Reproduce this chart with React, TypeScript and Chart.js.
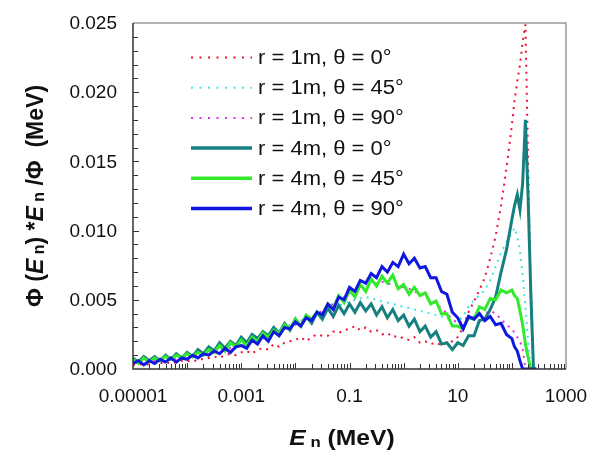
import React, { useEffect, useRef } from "react";
import { Chart, registerables } from "chart.js";

Chart.register(...registerables);

// Neutron energy bins (MeV)
const energies = [
  0.00001, 0.0000126, 0.0000158, 0.00002, 0.0000251, 0.0000316, 0.0000398, 0.0000501, 0.0000631, 0.0000794,
  0.0001, 0.000126, 0.000158, 0.0002, 0.000251, 0.000316, 0.000398, 0.000501, 0.000631, 0.000794,
  0.001, 0.00126, 0.00158, 0.002, 0.00251, 0.00316, 0.00398, 0.00501, 0.00631, 0.00794,
  0.01, 0.0126, 0.0158, 0.02, 0.0251, 0.0316, 0.0398, 0.0501, 0.0631, 0.0794,
  0.1, 0.126, 0.158, 0.2, 0.251, 0.316, 0.398, 0.501, 0.631, 0.794,
  1, 1.26, 1.58, 2, 2.51, 3.16, 3.98, 5.01, 6.31, 7.94,
  10, 12.6, 15.8, 20, 25.1, 31.6, 39.8, 50.1, 63.1, 79.4,
  100, 112, 126, 141, 158, 178, 200, 224, 251, 282,
];

const r1Theta0 = [
  0.0003, 0.0003, 0.0004, 0.0003, 0.0004, 0.0004, 0.0005, 0.0004, 0.0005, 0.0006,
  0.0006, 0.0005, 0.0007, 0.0007, 0.0008, 0.0009, 0.0008, 0.001, 0.0011, 0.001,
  0.0012, 0.0013, 0.0011, 0.0014, 0.0015, 0.0014, 0.0018, 0.0016, 0.0019, 0.002,
  0.0021, 0.0023, 0.002, 0.0023, 0.0025, 0.0024, 0.0024, 0.0027, 0.0026, 0.0028,
  0.0029, 0.0031, 0.0028, 0.003, 0.0027, 0.0028, 0.0025, 0.0026, 0.0023, 0.0024,
  0.0022, 0.0021, 0.0023, 0.0019, 0.002, 0.0018, 0.0019, 0.0017, 0.0019, 0.002,
  0.0023, 0.003, 0.0041, 0.0049, 0.0057, 0.0066, 0.008, 0.0096, 0.0118, 0.0145,
  0.0176, 0.0194, 0.0208, 0.022, 0.0236, 0.0249, 0.0148, 0.0045, 0.0, 0.0,
];

const r1Theta45 = [
  0.0005, 0.0005, 0.0006, 0.0006, 0.0007, 0.0007, 0.0008, 0.0008, 0.0009, 0.0009,
  0.001, 0.0011, 0.0011, 0.0012, 0.0013, 0.0014, 0.0015, 0.0016, 0.0017, 0.0018,
  0.0019, 0.002, 0.0021, 0.0023, 0.0024, 0.0026, 0.0027, 0.0029, 0.003, 0.0032,
  0.0034, 0.0035, 0.0037, 0.0038, 0.004, 0.0041, 0.0043, 0.0044, 0.0046, 0.0047,
  0.0049, 0.005, 0.0051, 0.0052, 0.0051, 0.005, 0.0049, 0.0048, 0.0047, 0.0046,
  0.0045, 0.0044, 0.0043, 0.0042, 0.0041, 0.004, 0.0039, 0.0038, 0.0036, 0.0035,
  0.0034, 0.0038, 0.0045, 0.005, 0.0053, 0.0057, 0.0064, 0.0074, 0.0084, 0.0092,
  0.0098, 0.0102, 0.0096, 0.0085, 0.0068, 0.0045, 0.002, 0.0, 0.0, 0.0,
];

const r1Theta90 = [
  0.0004, 0.0005, 0.0005, 0.0005, 0.0006, 0.0006, 0.0006, 0.0007, 0.0007, 0.0008,
  0.0008, 0.0009, 0.001, 0.001, 0.0011, 0.0012, 0.0013, 0.0014, 0.0015, 0.0016,
  0.0017, 0.0018, 0.002, 0.0021, 0.0022, 0.0024, 0.0025, 0.0027, 0.0029, 0.003,
  0.0032, 0.0034, 0.0036, 0.0038, 0.004, 0.0042, 0.0045, 0.0047, 0.005, 0.0052,
  0.0055, 0.0057, 0.0059, 0.006, 0.0061, 0.0062, 0.0063, 0.0062, 0.0061, 0.006,
  0.0059, 0.0058, 0.0056, 0.0054, 0.0052, 0.005, 0.0047, 0.0044, 0.004, 0.0036,
  0.0033, 0.0034, 0.0036, 0.0038, 0.0039, 0.004, 0.0042, 0.004, 0.0036, 0.0032,
  0.0029, 0.0026, 0.0023, 0.002, 0.0015, 0.0, 0.0, 0.0, 0.0, 0.0,
];

const r4Theta0 = [
  0.0008, 0.0005, 0.0009, 0.0006, 0.0009, 0.0006, 0.001, 0.0007, 0.0011, 0.0008,
  0.0012, 0.0009, 0.0014, 0.0011, 0.0016, 0.0013, 0.0019, 0.0015, 0.002, 0.0017,
  0.0023, 0.0019, 0.0025, 0.0022, 0.0027, 0.0024, 0.003, 0.0026, 0.0033, 0.0028,
  0.0036, 0.0031, 0.0038, 0.0033, 0.0041, 0.0036, 0.0044, 0.0038, 0.0046, 0.004,
  0.0047, 0.0041, 0.0048, 0.0042, 0.0047, 0.0039, 0.0045, 0.0037, 0.0043, 0.0035,
  0.0039, 0.0031, 0.0036, 0.0027, 0.0031, 0.0023, 0.0027, 0.0018, 0.0019, 0.0014,
  0.0019, 0.0017, 0.0024, 0.0024, 0.0035, 0.0036, 0.0043, 0.0052, 0.007, 0.0086,
  0.0108, 0.0118, 0.0126, 0.0115, 0.0134, 0.018, 0.0122, 0.0055, 0.0, 0.0,
];

const r4Theta45 = [
  0.0007, 0.0004, 0.0008, 0.0005, 0.0008, 0.0006, 0.0009, 0.0007, 0.001, 0.0008,
  0.0011, 0.0009, 0.0012, 0.001, 0.0014, 0.0012, 0.0017, 0.0013, 0.0019, 0.0016,
  0.0021, 0.0017, 0.0023, 0.002, 0.0026, 0.0023, 0.0028, 0.0026, 0.0032, 0.0029,
  0.0036, 0.0031, 0.0039, 0.0036, 0.0041, 0.0039, 0.0047, 0.0044, 0.0053, 0.0048,
  0.0057, 0.0052, 0.0061, 0.0056, 0.0065, 0.006, 0.0067, 0.0062, 0.0068, 0.0058,
  0.0061, 0.0054, 0.0059, 0.0053, 0.0055, 0.0047, 0.0049, 0.004, 0.004, 0.0031,
  0.0031, 0.0029, 0.0037, 0.0036, 0.0045, 0.0043, 0.0051, 0.005, 0.0057, 0.0055,
  0.0057, 0.0053, 0.0051, 0.0042, 0.0032, 0.0018, 0.0008, 0.0, 0.0, 0.0,
];

const r4Theta90 = [
  0.0004, 0.0006, 0.0003, 0.0006, 0.0004, 0.0007, 0.0005, 0.0008, 0.0005, 0.0008,
  0.0007, 0.001, 0.0008, 0.0011, 0.001, 0.0013, 0.0011, 0.0015, 0.0012, 0.0016,
  0.0017, 0.0015, 0.0021, 0.0018, 0.0024, 0.002, 0.0027, 0.0024, 0.003, 0.0029,
  0.0034, 0.0031, 0.0037, 0.0035, 0.0041, 0.0039, 0.0047, 0.0043, 0.0052, 0.005,
  0.0059, 0.0056, 0.0064, 0.0062, 0.0069, 0.0066, 0.0074, 0.007, 0.0077, 0.0074,
  0.0083, 0.0076, 0.008, 0.0073, 0.0074, 0.0066, 0.0066, 0.0056, 0.0054, 0.0041,
  0.0037, 0.0029, 0.0038, 0.0036, 0.004, 0.0035, 0.0038, 0.0032, 0.0033, 0.0025,
  0.0022, 0.0016, 0.0013, 0.0006, 0.0, 0.0, 0.0, 0.0, 0.0, 0.0,
];

const seriesLabels = [
  "r = 1m, θ = 0°",
  "r = 1m, θ = 45°",
  "r = 1m, θ = 90°",
  "r = 4m, θ = 0°",
  "r = 4m, θ = 45°",
  "r = 4m, θ = 90°",
];
const seriesValues = [r1Theta0, r1Theta45, r1Theta90, r4Theta0, r4Theta45, r4Theta90];
const seriesColors = ["#ee1133", "#3ee6e6", "#e433e4", "#15807f", "#33ea2a", "#0f17e0"];
const seriesDotted = [true, true, true, false, false, false];

const xTickValues = [0.00001, 0.001, 0.1, 10, 1000];
const xTickLabels = ["0.00001", "0.001", "0.1", "10", "1000"];
const yTickValues = [0, 0.005, 0.01, 0.015, 0.02, 0.025];
const yTickLabels = ["0.000", "0.005", "0.010", "0.015", "0.020", "0.025"];

const FONT = '"Liberation Sans", Arial, Helvetica, sans-serif';

function drawSegments(
  ctx: CanvasRenderingContext2D,
  segs: { t: string; f: string; dy?: number }[],
  cx: number,
  baseline: number,
  sx: number
) {
  let total = 0;
  const widths = segs.map((s) => {
    ctx.font = s.f;
    const w = ctx.measureText(s.t).width * sx;
    total += w;
    return w;
  });
  let x = cx - total / 2;
  segs.forEach((s, i) => {
    ctx.font = s.f;
    ctx.save();
    ctx.translate(x, baseline + (s.dy || 0));
    ctx.scale(sx, 1);
    ctx.textAlign = "left";
    ctx.textBaseline = "alphabetic";
    ctx.fillText(s.t, 0, 0);
    ctx.restore();
    x += widths[i];
  });
}

const decorPlugin = {
  id: "decor",
  afterDraw(chart: any) {
    const ctx: CanvasRenderingContext2D = chart.ctx;
    const { left, right, top, bottom } = chart.chartArea;
    const xs = chart.scales.x;
    const ys = chart.scales.y;
    ctx.save();

    // frame
    ctx.lineWidth = 1.5;
    ctx.strokeStyle = "#999999";
    ctx.beginPath();
    ctx.moveTo(left, top);
    ctx.lineTo(right, top);
    ctx.lineTo(right, bottom);
    ctx.stroke();
    ctx.strokeStyle = "#333333";
    ctx.beginPath();
    ctx.moveTo(left, top);
    ctx.lineTo(left, bottom);
    ctx.lineTo(right, bottom);
    ctx.stroke();

    // y ticks (inside)
    ctx.lineWidth = 1;
    ctx.strokeStyle = "#333333";
    for (let k = 1; k < 25; k++) {
      const py = Math.round(ys.getPixelForValue(k / 1000)) + 0.5;
      ctx.beginPath();
      ctx.moveTo(left, py);
      ctx.lineTo(left + (k % 5 === 0 ? 6 : 5), py);
      ctx.stroke();
    }
    // x ticks (inside)
    for (let d = -5; d <= 2; d++) {
      for (let m = 1; m <= 9; m++) {
        if (d === -5 && m === 1) continue;
        const v = m * Math.pow(10, d);
        const px = Math.round(xs.getPixelForValue(v)) + 0.5;
        ctx.beginPath();
        ctx.moveTo(px, bottom);
        ctx.lineTo(px, bottom - (m === 1 ? 6 : 5));
        ctx.stroke();
      }
    }

    ctx.fillStyle = "#111111";
    // tick labels
    ctx.font = `19px ${FONT}`;
    ctx.textBaseline = "middle";
    ctx.textAlign = "center";
    xTickValues.forEach((v, i) => {
      ctx.fillText(xTickLabels[i], xs.getPixelForValue(v), bottom + 28);
    });
    ctx.textAlign = "right";
    yTickValues.forEach((v, i) => {
      ctx.fillText(yTickLabels[i], left - 16, ys.getPixelForValue(v) + 1);
    });

    // legend
    seriesLabels.forEach((lab, i) => {
      const y = top + 34.5 + i * 30.2;
      ctx.save();
      ctx.strokeStyle = seriesColors[i];
      ctx.lineWidth = seriesDotted[i] ? 2 : 3.5;
      ctx.setLineDash(seriesDotted[i] ? [2, 6.5] : []);
      ctx.beginPath();
      ctx.moveTo(left + 58, y);
      ctx.lineTo(left + 119, y);
      ctx.stroke();
      ctx.restore();
      ctx.save();
      ctx.font = `20px ${FONT}`;
      ctx.textAlign = "left";
      ctx.textBaseline = "middle";
      ctx.translate(left + 125, y + 1);
      ctx.scale(1.1, 1);
      ctx.fillText(lab, 0, 0);
      ctx.restore();
    });

    // x title
    const big = `bold 22px ${FONT}`;
    const bigI = `italic bold 22px ${FONT}`;
    const small = `bold 15px ${FONT}`;
    drawSegments(
      ctx,
      [
        { t: "E", f: bigI },
        { t: " n", f: small, dy: 2 },
        { t: " (MeV)", f: big },
      ],
      342,
      445,
      1.12
    );

    // y title
    const bigY = `bold 23px ${FONT}`;
    const bigYI = `italic bold 23px ${FONT}`;
    const smallY = `bold 16px ${FONT}`;
    ctx.save();
    ctx.translate(43, (top + bottom) / 2);
    ctx.rotate(-Math.PI / 2);
    drawSegments(
      ctx,
      [
        { t: "Φ (", f: bigY },
        { t: "E", f: bigYI },
        { t: " n", f: smallY, dy: 1 },
        { t: ") *", f: bigY },
        { t: "E", f: bigYI },
        { t: " n", f: smallY, dy: 1 },
        { t: " /Φ  (MeV)", f: bigY },
      ],
      0,
      0,
      1
    );
    ctx.restore();

    ctx.restore();
  },
};

export default function App() {
  const canvasRef = useRef<HTMLCanvasElement | null>(null);

  useEffect(() => {
    const canvas = canvasRef.current;
    if (!canvas) return;
    const datasets = seriesLabels.map((label, i) => ({
      label,
      data: energies.map((e, j) => ({ x: e, y: seriesValues[i][j] })),
      borderColor: seriesColors[i],
      backgroundColor: seriesColors[i],
      borderWidth: seriesDotted[i] ? 2 : 3,
      borderDash: seriesDotted[i] ? [2, 5] : [],
      pointRadius: 0,
      tension: 0,
      fill: false,
      order: 5 - i,
    }));
    const chart = new Chart(canvas, {
      type: "line",
      data: { datasets },
      plugins: [decorPlugin],
      options: {
        animation: false,
        responsive: false,
        maintainAspectRatio: false,
        layout: { padding: { left: 0, right: 36, top: 23, bottom: 0 } },
        plugins: { legend: { display: false }, tooltip: { enabled: false } },
        scales: {
          x: {
            type: "logarithmic",
            min: 0.00001,
            max: 1000,
            grid: { display: false },
            border: { display: false },
            ticks: { display: false },
            afterFit: (s: any) => {
              s.height = 95;
            },
          },
          y: {
            type: "linear",
            min: 0,
            max: 0.025,
            grid: { display: false },
            border: { display: false },
            ticks: { display: false },
            afterFit: (s: any) => {
              s.width = 133;
            },
          },
        },
      } as any,
    });
    return () => chart.destroy();
  }, []);

  return (
    <div style={{ position: "absolute", left: 0, top: 0, width: 602, height: 464, background: "#ffffff" }}>
      <canvas ref={canvasRef} width={602} height={464} style={{ width: 602, height: 464 }} />
    </div>
  );
}
